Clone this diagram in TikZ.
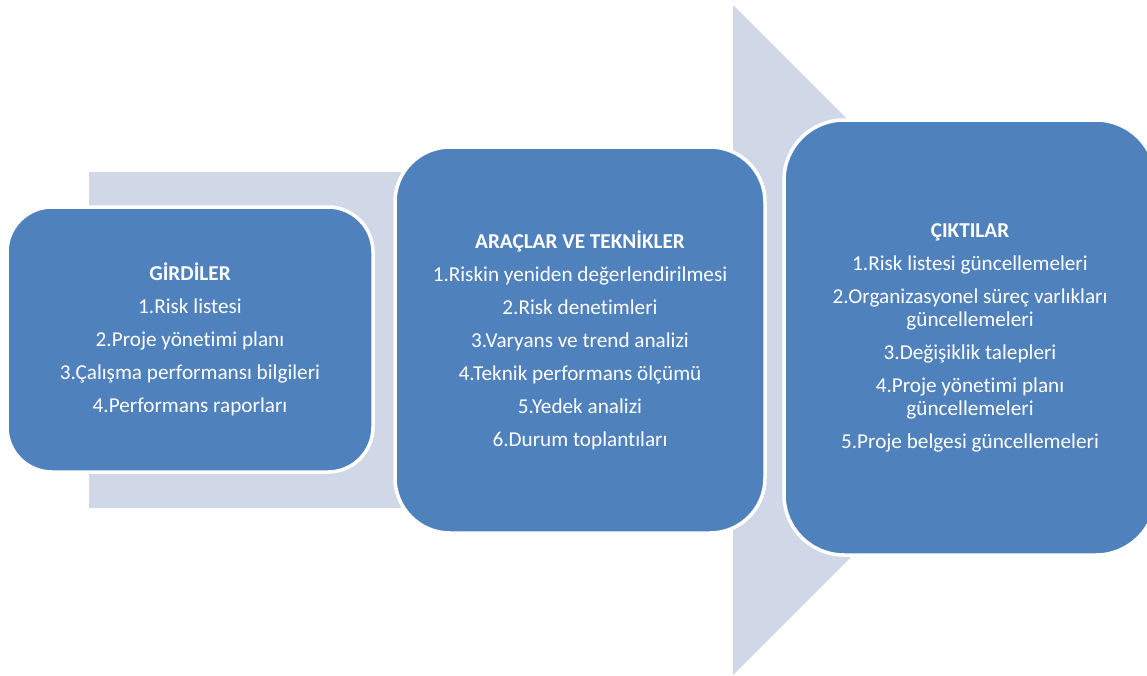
\documentclass[tikz,border=0pt]{standalone}
\usepackage{fontspec}
\setmainfont{Carlito}[Ligatures={NoCommon}]
\definecolor{boxblue}{RGB}{79,129,189}
\definecolor{arrowgray}{RGB}{208,216,232}
\tikzset{
  stage/.style={draw=white, line width=3.5pt, fill=boxblue, text=white,
    align=center, inner sep=0pt,
    font=\fontsize{21.2}{23}\selectfont},
}
\newcommand{\itemgap}{\\[10pt]}
\begin{document}
\begin{tikzpicture}[x=1pt,y=-1pt]
\useasboundingbox (0,0) rectangle (1147,675);
% broad process arrow behind the three stages
\fill[arrowgray] (89,172) -- (733,172) -- (733,5) -- (1068,340)
  -- (733,675) -- (733,508) -- (89,508) -- cycle;
% stages
\node[stage, rounded corners=45pt, minimum width=366pt, minimum height=265pt]
  (inputs) at (190,339.5)
  {\textbf{GİRDİLER}\itemgap
   1.Risk listesi\itemgap
   2.Proje yönetimi planı\itemgap
   3.Çalışma performansı bilgileri\itemgap
   4.Performans raporları};
\node[stage, rounded corners=55pt, minimum width=370pt, minimum height=386pt]
  (tools) at (580,340)
  {\textbf{ARAÇLAR VE TEKNİKLER}\itemgap
   1.Riskin yeniden değerlendirilmesi\itemgap
   2.Risk denetimleri\itemgap
   3.Varyans ve trend analizi\itemgap
   4.Teknik performans ölçümü\itemgap
   5.Yedek analizi\itemgap
   6.Durum toplantıları};
\node[stage, rounded corners=60pt, minimum width=372pt, minimum height=435pt]
  (outputs) at (970,337.5)
  {\textbf{ÇIKTILAR}\itemgap
   1.Risk listesi güncellemeleri\itemgap
   2.Organizasyonel süreç varlıkları\\
   güncellemeleri\itemgap
   3.Değişiklik talepleri\itemgap
   4.Proje yönetimi planı\\
   güncellemeleri\itemgap
   5.Proje belgesi güncellemeleri};
\end{tikzpicture}
\end{document}
